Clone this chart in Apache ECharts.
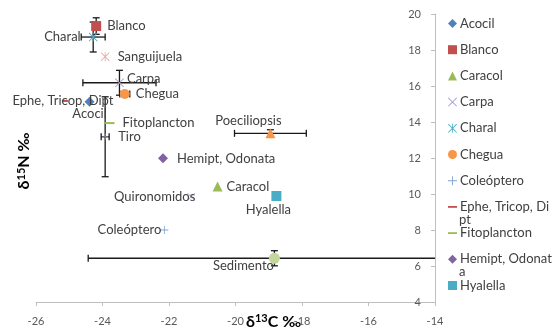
<!DOCTYPE html>
<html>
<head>
<meta charset="utf-8">
<script src="https://cdn.jsdelivr.net/npm/echarts@6/dist/echarts.min.js"></script>
<style>
  html, body { margin: 0; padding: 0; background: #fff; }
  #chart { width: 553px; height: 333px; }
</style>
</head>
<body>
<div id="chart"></div>
<script>
// valores (δ13C, δ15N y desviaciones)
const names = ['Acocil', 'Blanco', 'Caracol', 'Carpa', 'Charal', 'Chegua', 'Coleóptero',
  'Ephe, Tricop, Dipt', 'Fitoplancton', 'Hemipt, Odonata', 'Hyalella', 'Poeciliopsis',
  'Quironomidos', 'Sanguijuela', 'Sedimento', 'Tiro'];
const d13C = [-24.39, -24.19, -20.54, -23.49, -24.28, -23.33, -22.14, -25.13, -23.79, -22.18, -18.77, -18.95, -21.33, -23.92, -18.83, -23.92];
const d15N = [15.13, 19.33, 10.41, 16.18, 18.72, 15.56, 8.0, 15.17, 13.94, 11.98, 9.89, 13.37, 9.85, 17.63, 6.43, 13.18];
const errC = [0, 0, 0, 1.1, 0.36, 0.15, 0, 0, 0, 0, 0, 1.08, 0, 0, 5.6, 0.12];
const errN = [0, 0.46, 0, 0.69, 0.83, 0.1, 0, 0, 0, 0, 0, 0.2, 0, 0, 0.42, 2.22];
const legendNames = names.slice(0, 11);
// cortes de línea de la leyenda (como en el original)
const legendWrap = { 'Ephe, Tricop, Dipt': ['Ephe, Tricop, Di', 'pt'], 'Hemipt, Odonata': ['Hemipt, Odonat', 'a'] };
const xTicks = { min: -26, max: -14, step: 2 };
const yTicks = { min: 4, max: 20, step: 2 };

const PLUS = 'path://M4.5,0H5.5V4.5H10V5.5H5.5V10H4.5V5.5H0V4.5H4.5Z';
const CROSS = 'path://M0,0.7L0.7,0L5,4.3L9.3,0L10,0.7L5.7,5L10,9.3L9.3,10L5,5.7L0.7,10L0,9.3L4.3,5Z';
const STAR = CROSS.replace('Z', 'ZM4.55,0H5.45V10H4.55Z');
const DASH = 'path://M0,0H10V2H0Z';

const styles = {
  'Acocil': { color: '#4F81BD', symbol: 'diamond', size: 10, label: { position: 'bottom', distance: 1 } },
  'Blanco': { color: '#C0504D', symbol: 'rect', size: 10, label: { position: 'right', distance: 6 } },
  'Caracol': { color: '#9BBB59', symbol: 'triangle', size: 10, label: { position: 'right', distance: 4 } },
  'Carpa': { color: '#A99BCB', symbol: CROSS, size: 9, label: { position: 'right', distance: 3, offset: [0, -4] } },
  'Charal': { color: '#4BACC6', symbol: STAR, size: 9, label: { position: 'left', distance: 8 } },
  'Chegua': { color: '#F79646', symbol: 'circle', size: 10, label: { position: 'right', distance: 6 } },
  'Coleóptero': { color: '#7FA3D4', symbol: PLUS, size: 8, label: { position: 'left', distance: -1 } },
  'Ephe, Tricop, Dipt': { color: '#C0504D', symbol: DASH, size: [6, 2], label: { position: 'inside', offset: [-2, 0] } },
  'Fitoplancton': { color: '#9BBB59', symbol: DASH, size: [10, 2], label: { position: 'right', distance: 8 } },
  'Hemipt, Odonata': { color: '#8064A2', symbol: 'diamond', size: 10, label: { position: 'right', distance: 9 } },
  'Hyalella': { color: '#4BACC6', symbol: 'rect', size: 10, label: { position: 'bottom', distance: 2, offset: [-8, 0] } },
  'Poeciliopsis': { color: '#F79646', symbol: 'triangle', size: 10, label: { position: 'top', distance: 1, offset: [-22, 0] } },
  'Quironomidos': { color: '#A5B8DD', symbol: CROSS, size: 8, label: { position: 'left', distance: -8 } },
  'Sanguijuela': { color: '#E6A9A8', symbol: STAR, size: 9, label: { position: 'right', distance: 8 } },
  'Sedimento': { color: '#C3D69B', symbol: 'circle', size: 11, label: { position: 'bottom', distance: 0, offset: [-31, -4] } },
  'Tiro': { color: '#B3A2C7', symbol: PLUS, size: 6, label: { position: 'right', distance: 10 } },
};

const txt = '#404040';
const font = 'Lato';
const legendTop = 12, legendStep = 26.2, legendTextX = 459;

const errSeries = {
  type: 'custom',
  name: 'err',
  clip: true,
  silent: true,
  z: 1,
  data: names.map((n, i) => [d13C[i], d15N[i], errC[i], errN[i]]),
  renderItem(params, api) {
    const x = api.value(0), y = api.value(1), ex = api.value(2), ey = api.value(3);
    const c = api.coord([x, y]);
    const st = { stroke: '#1a1a1a', lineWidth: 1.3 };
    const cap = 3.5;
    const kids = [];
    if (ex > 0) {
      const l = api.coord([x - ex, y]), r = api.coord([x + ex, y]);
      kids.push({ type: 'line', shape: { x1: l[0], y1: c[1], x2: r[0], y2: c[1] }, style: st });
      kids.push({ type: 'line', shape: { x1: l[0], y1: c[1] - cap, x2: l[0], y2: c[1] + cap }, style: st });
      kids.push({ type: 'line', shape: { x1: r[0], y1: c[1] - cap, x2: r[0], y2: c[1] + cap }, style: st });
    }
    if (ey > 0) {
      const t = api.coord([x, y + ey]), b = api.coord([x, y - ey]);
      kids.push({ type: 'line', shape: { x1: c[0], y1: t[1], x2: c[0], y2: b[1] }, style: st });
      kids.push({ type: 'line', shape: { x1: c[0] - cap, y1: t[1], x2: c[0] + cap, y2: t[1] }, style: st });
      kids.push({ type: 'line', shape: { x1: c[0] - cap, y1: b[1], x2: c[0] + cap, y2: b[1] }, style: st });
    }
    return { type: 'group', children: kids };
  },
};

const pointSeries = names.map((n, i) => {
  const s = styles[n];
  return {
    type: 'scatter',
    name: n,
    z: 2,
    symbol: s.symbol,
    symbolSize: s.size,
    itemStyle: { color: s.color, opacity: 1 },
    label: Object.assign({
      show: true,
      formatter: '{a}',
      color: txt,
      fontFamily: font,
      fontSize: 13,
    }, s.label),
    data: [[d13C[i], d15N[i]]],
  };
});

// segunda línea de las entradas partidas de la leyenda
const wrapTexts = legendNames.map((n, i) => legendWrap[n] ? {
  type: 'text',
  x: legendTextX,
  y: legendTop + 5 + 6.5 + i * legendStep + 13,
  style: { text: legendWrap[n][1], fill: txt, font: `13px ${font}`, verticalAlign: 'middle' },
} : null).filter(Boolean);

const chart = echarts.init(document.getElementById('chart'), null, { renderer: 'canvas' });
chart.setOption({
  animation: false,
  backgroundColor: '#fff',
  grid: { left: 36, right: 118, top: 14, bottom: 31 },
  xAxis: {
    type: 'value',
    min: xTicks.min, max: xTicks.max, interval: xTicks.step,
    splitLine: { show: false },
    axisLine: { onZero: false, lineStyle: { color: '#BFBFBF' } },
    axisTick: { lineStyle: { color: '#BFBFBF' }, length: 4 },
    axisLabel: { color: '#595959', fontFamily: font, fontSize: 11, margin: 14 },
  },
  yAxis: {
    type: 'value',
    position: 'right',
    min: yTicks.min, max: yTicks.max, interval: yTicks.step,
    splitLine: { show: false },
    axisLine: { show: true, onZero: false, lineStyle: { color: '#BFBFBF' } },
    axisTick: { show: true, inside: true, length: 4, lineStyle: { color: '#BFBFBF' } },
    axisLabel: { inside: true, margin: 14, color: '#595959', fontFamily: font, fontSize: 11 },
  },
  legend: {
    data: legendNames,
    orient: 'vertical',
    left: 443,
    top: legendTop,
    itemGap: legendStep - 13,
    itemWidth: 9,
    itemHeight: 9,
    selectedMode: false,
    textStyle: { color: txt, fontFamily: font, fontSize: 13, lineHeight: 13, padding: [0, 0, 0, -2] },
    formatter(name) {
      return legendWrap[name] ? legendWrap[name][0] : name;
    },
  },
  graphic: [
    {
      type: 'text',
      left: 246,
      top: 313,
      style: {
        text: '{a|δ}{s|13}{a|C ‰}',
        rich: {
          a: { fontFamily: font, fontSize: 16, fontWeight: 'bold', fill: '#000' },
          s: { fontFamily: font, fontSize: 11, fontWeight: 'bold', fill: '#000', verticalAlign: 'top', padding: [0, 0, 6, 0] },
        },
      },
    },
    {
      type: 'text',
      x: 24,
      y: 161,
      rotation: Math.PI / 2,
      style: {
        text: '{a|δ}{s|15}{a|N ‰}',
        align: 'center',
        verticalAlign: 'middle',
        rich: {
          a: { fontFamily: font, fontSize: 16, fontWeight: 'bold', fill: '#000' },
          s: { fontFamily: font, fontSize: 11, fontWeight: 'bold', fill: '#000', padding: [0, 0, 6, 0] },
        },
      },
    },
  ].concat(wrapTexts),
  series: [errSeries].concat(pointSeries),
});
</script>
</body>
</html>
